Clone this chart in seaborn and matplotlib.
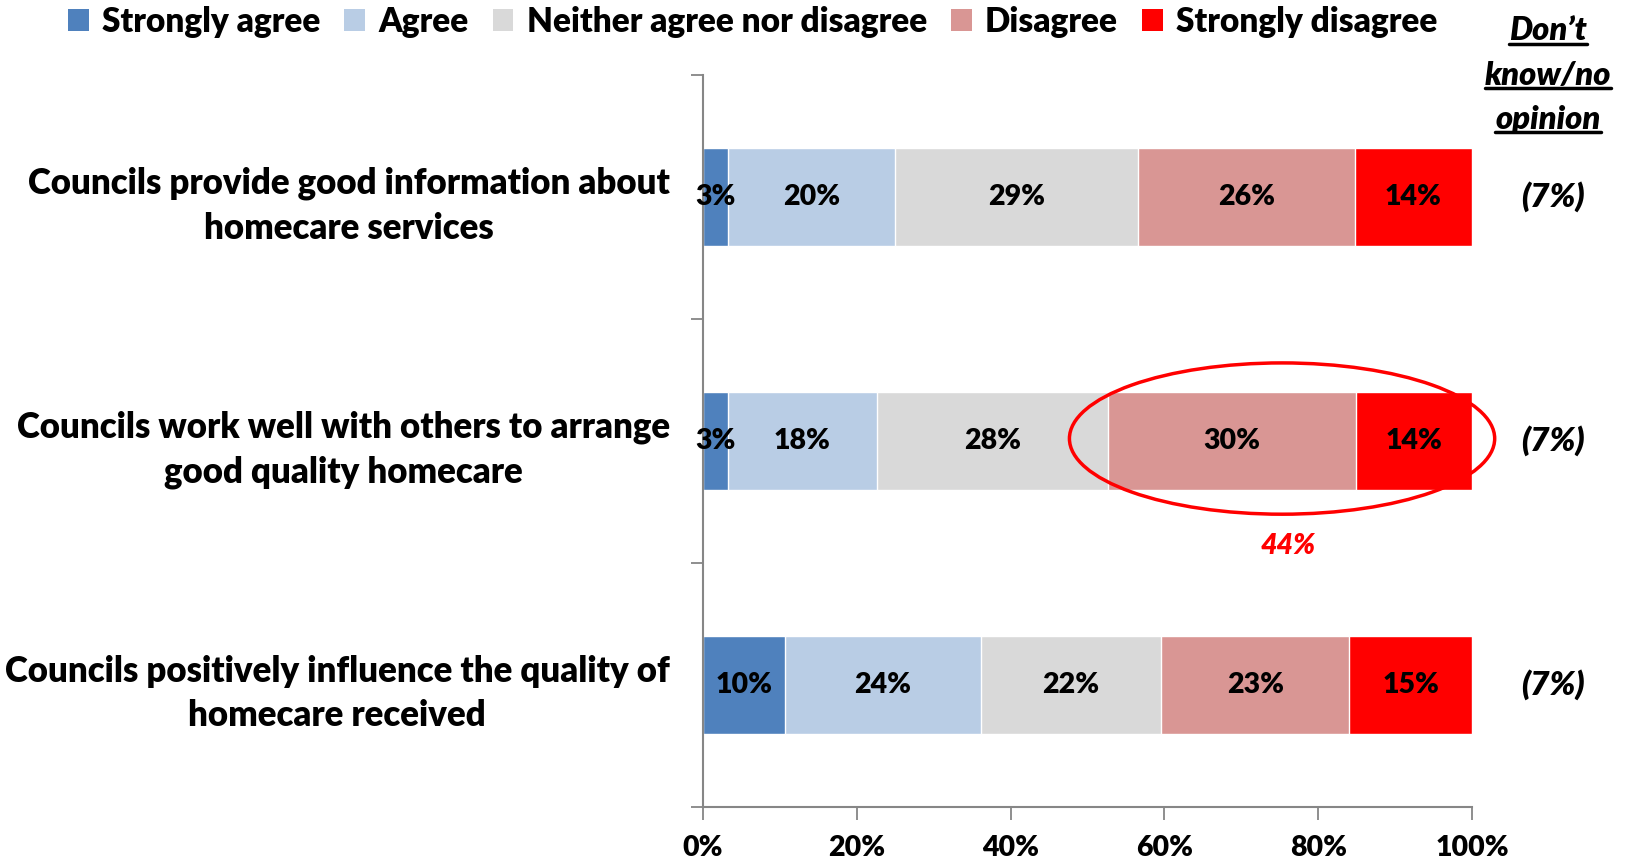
import numpy as np
import pandas as pd
import matplotlib
matplotlib.use("Agg")
import matplotlib.pyplot as plt
from matplotlib.patches import Ellipse, Patch
import seaborn as sns

# Survey statements and responses (percent of respondents)
statements = [
    "Councils provide good information about\nhomecare services",
    "Councils work well with others to arrange\ngood quality homecare",
    "Councils positively influence the quality of\nhomecare received",
]
series_names = ["Strongly agree", "Agree", "Neither agree nor disagree",
                "Disagree", "Strongly disagree"]
strongly_agree = [3, 3, 10]
agree = [20, 18, 24]
neither = [29, 28, 22]
disagree = [26, 30, 23]
strongly_disagree = [14, 14, 15]
dont_know = [7, 7, 7]
combined_disagree_label = "44%"
x_ticks = [0, 20, 40, 60, 80, 100]

colors = ["#4F81BD", "#B9CDE5", "#D9D9D9", "#D99694", "#FF0000"]

sns.set_theme(style="white")
FONT = ["Lato", "DejaVu Sans"]
W = 800
plt.rcParams["font.family"] = FONT
plt.rcParams["font.weight"] = W
plt.rcParams["text.color"] = "black"
plt.rcParams["xtick.labelcolor"] = "black"
plt.rcParams["ytick.labelcolor"] = "black"

values = np.array([strongly_agree, agree, neither, disagree, strongly_disagree], dtype=float)
# Bars show each answer as a share of those who gave an opinion
shares = values / values.sum(axis=0) * 100
cum = np.cumsum(shares, axis=0)

fig = plt.figure(figsize=(16.25, 8.64), dpi=100)
ax = fig.add_axes([703 / 1625, 1 - 807 / 864, (1472 - 703) / 1625, (807 - 75) / 864])

# Stacked bars: draw the cumulative totals from the right-most segment back
for i in reversed(range(len(series_names))):
    df = pd.DataFrame({"statement": statements, "value": cum[i]})
    sns.barplot(data=df, x="value", y="statement", orient="h", color=colors[i],
                width=0.4, saturation=1, ax=ax)

# Segment labels
for i in range(len(series_names)):
    for j in range(len(statements)):
        mid = cum[i, j] - shares[i, j] / 2
        ax.text(mid, j, f"{int(values[i, j])}%", ha="center", va="center",
                fontsize=20.5, fontweight=W, color="black")

ax.set_xlim(0, 100)
ax.set_ylim(2.5, -0.5)
ax.set_xlabel("")
ax.set_ylabel("")
ax.set_xticks(x_ticks)
ax.set_xticklabels([f"{t}%" for t in x_ticks], fontsize=20.5, fontweight=W)
ax.set_yticks(range(len(statements)))
ax.set_yticklabels(statements, fontsize=25, fontweight=W, ha="right",
                   multialignment="center", linespacing=1.42)
ax.set_yticks([-0.5, 0.5, 1.5, 2.5], minor=True)
ax.tick_params(axis="y", which="major", length=0, pad=24)
ax.tick_params(axis="y", which="minor", length=9, color="#868686", width=1.3, left=True)
ax.tick_params(axis="x", which="major", length=9, color="#868686", width=1.3,
               bottom=True, pad=11)
for s in ["top", "right"]:
    ax.spines[s].set_visible(False)
for s in ["left", "bottom"]:
    ax.spines[s].set_color("#868686")
    ax.spines[s].set_linewidth(1.5)

# Highlight the combined disagreement for the second statement
ell = Ellipse((75.3, 0.99), 55.3, 0.62, fill=False, edgecolor="#FF0000",
              linewidth=2.5, clip_on=False, zorder=5)
ax.add_patch(ell)
ax.text(76.1, 1.43, combined_disagree_label, ha="center", va="center",
        fontsize=20.5, fontweight=W, fontstyle="italic", color="#FF0000")

# Don't know / no opinion column
for j in range(len(statements)):
    ax.text(1.105, j, f"({dont_know[j]}%)", transform=ax.get_yaxis_transform(),
            ha="center", va="center", fontsize=24, fontweight=W,
            fontstyle="italic", clip_on=False)
for k, line in enumerate(["Don\u2019t", "know/no", "opinion"]):
    y = 1 - (31 + 44 * k) / 864
    fig.text(1548 / 1625, y, line, ha="center", va="center", fontsize=23.5,
             fontweight=W, fontstyle="italic")
# underline each header line
fig.canvas.draw()
renderer = fig.canvas.get_renderer()
for t in list(fig.texts):
    bb = t.get_window_extent(renderer).transformed(fig.transFigure.inverted())
    fig.add_artist(plt.Line2D([bb.x0, bb.x1], [bb.y0 + 0.002, bb.y0 + 0.002],
                              transform=fig.transFigure, color="black", linewidth=2.5))

# Legend across the top
handles = [Patch(facecolor=c, edgecolor="none") for c in colors]
fig.legend(handles, series_names, loc="center left", bbox_to_anchor=(68 / 1625, 1 - 22 / 864),
           ncol=5, frameon=False, fontsize=24, handlelength=0.62, handleheight=0.62,
           handletextpad=0.4, columnspacing=0.72, borderaxespad=0, borderpad=0)

fig.savefig("out.png", dpi=100)
